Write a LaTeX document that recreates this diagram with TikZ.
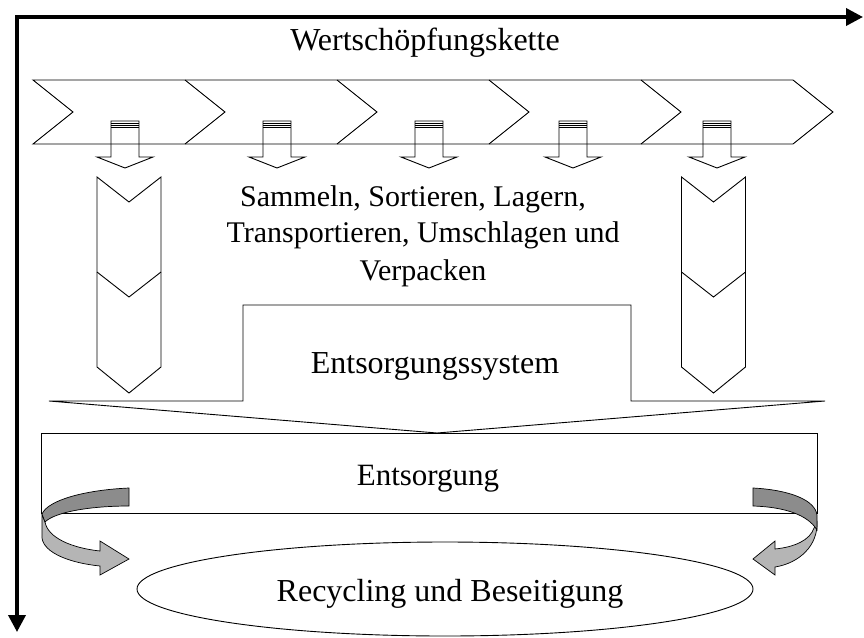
\documentclass[tikz,border=0pt]{standalone}
\usepackage{fontspec}
\setmainfont{Liberation Serif}
\usetikzlibrary{arrows.meta,shapes.geometric}
\definecolor{ribbondark}{gray}{0.55}
\definecolor{ribbonlight}{gray}{0.71}
\begin{document}
\begin{tikzpicture}[x=1pt,y=-1pt,
  outline/.style={draw=black,line width=0.9pt,line join=miter},
  axis/.style={draw=black,line width=3.6pt,line join=miter,
    {Triangle[length=17pt,width=17pt]}-{Triangle[length=17pt,width=17pt]}},
  label/.style={inner sep=0pt,anchor=base,font=\fontsize{30}{36}\selectfont},
  biglabel/.style={label,font=\fontsize{32}{38}\selectfont},
  ribbon/.style={draw=black,line width=0.7pt},
  striped arrow/.pic={
    \draw[outline] (-14,121) -- (-14,157) -- (-28,157) -- (0,168)
      -- (28,157) -- (14,157) -- (14,121) -- cycle;
    \foreach \s in {123,125,127}
      \draw[black,line width=0.8pt] (-14,\s) -- (14,\s);
  },
  vchevron/.pic={
    \draw[outline] (-32,177) -- (0,202) -- (32,177) -- (32,367)
      -- (0,393) -- (-32,367) -- cycle;
    \draw[outline] (-32,272) -- (0,297) -- (32,272);
  }]
\useasboundingbox (0,0) rectangle (864,637);

% axes of the value chain
\coordinate (corner) at (17,17);
\coordinate (xend) at (863,17);
\coordinate (yend) at (17,632);
\draw[axis] (xend) -- (corner) -- (yend);
\node[biglabel] (title) at (425,50) {Wertschöpfungskette};

% chevron band
\draw[outline] (33,80) -- (793,80) -- (833,112) -- (793,144) -- (33,144)
  -- (73,112) -- cycle;
\foreach \b in {185,337,489,641}
  \draw[outline] (\b,80) -- (\b+40,112) -- (\b,144);

% small arrows leaving the chain
\foreach \a in {125,277,429,573,717}
  \pic at (\a,0) {striped arrow};

% vertical chevrons
\pic at (129,0) {vchevron};
\pic at (713.5,0) {vchevron};

\node[label] (tasks1) at (413,206) {Sammeln, Sortieren, Lagern,};
\node[label] (tasks2) at (423,242) {Transportieren, Umschlagen und};
\node[label] (tasks3) at (423,280) {Verpacken};

% disposal system arrow
\draw[outline] (243,401) -- (243,305) -- (631,305) -- (631,401) -- (825,401)
  -- (437,433) -- (49,401) -- cycle;
\node[biglabel] (system) at (435,373) {Entsorgungssystem};

% disposal
\draw[outline] (41,433) rectangle (817,513);
\node[label,font=\fontsize{31}{37}\selectfont] (disposal) at (428,485) {Entsorgung};

% recycling ellipse
\node[ellipse,outline,minimum width=616pt,minimum height=94pt,inner sep=0pt]
  (recycling) at (445,589) {};
\node[biglabel] (recytext) at (450,601) {Recycling und Beseitigung};

% left ribbon arrow
\filldraw[ribbon,fill=ribbonlight] (42,514) -- (42,538)
  .. controls (44,553) and (70,563) .. (100,566) -- (100,575) -- (129,559)
  -- (100,541) -- (100,551) .. controls (72,548) and (48,538) .. (45,522) -- cycle;
\filldraw[ribbon,fill=ribbondark] (129,488) .. controls (85,490) and (48,500) .. (42,514)
  .. controls (43,518) .. (45,522) .. controls (55,512) and (90,506) .. (129,506) -- cycle;

% right ribbon arrow
\filldraw[ribbon,fill=ribbonlight] (817,522) .. controls (818,545) and (800,563) .. (775,567)
  -- (775,575) -- (753,559) -- (775,541) -- (775,549)
  .. controls (795,547) and (810,540) .. (814,528) -- cycle;
\filldraw[ribbon,fill=ribbondark] (753,488) .. controls (790,490) and (815,500) .. (817,515)
  -- (817,530) .. controls (808,515) and (785,507) .. (753,506) -- cycle;
\end{tikzpicture}
\end{document}
